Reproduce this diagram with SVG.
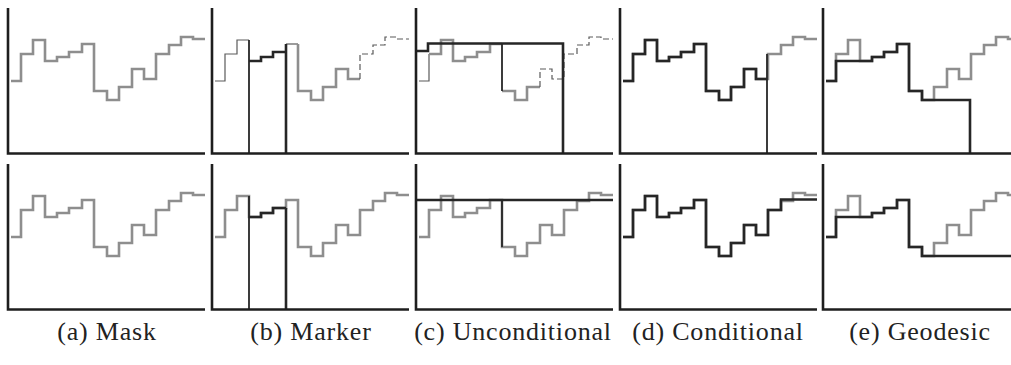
<svg xmlns="http://www.w3.org/2000/svg" width="1011" height="365" viewBox="0 0 1011 365">
<style>
.ax{fill:none;stroke:#1e1e1e;stroke-width:2.6;stroke-linejoin:miter}
.g{fill:none;stroke:#8e8e8e;stroke-width:2.6;stroke-linejoin:miter}
.k{fill:none;stroke:#262626;stroke-width:2.6;stroke-linejoin:miter}
.kw{fill:none;stroke:#262626;stroke-width:1.8}
.t{fill:none;stroke:#5a5a5a;stroke-width:1.2}
.td{fill:none;stroke:#5a5a5a;stroke-width:1.2;stroke-dasharray:6 3}
.lbl{font-family:"Liberation Serif","DejaVu Serif",serif;font-size:26px;letter-spacing:0.8px;fill:#222;text-anchor:middle}
</style>
<defs>
<path id="mask" d="M3,81 H13 V54 H25 V40 H37 V61 H49 V57 H61 V52 H74 V44 H86 V91 H99 V100 H111 V87 H124 V69 H136 V79 H148 V54 H161 V45 H173 V37 H185 V39 H197"/>
<path id="axis" d="M0,8 V153.5 H197"/>
</defs>
<rect width="1011" height="365" fill="#fff"/>

<g id="a-top" transform="translate(8,0)">
<use href="#mask" class="g"/>
<use href="#axis" class="ax"/>
</g>
<g id="a-bottom" transform="translate(8,156)">
<use href="#mask" class="g"/>
<use href="#axis" class="ax"/>
</g>

<g id="b-top" transform="translate(212,0)">
<path class="t" d="M3,81 H13 V54 H25 V40 H37"/>
<path class="t" d="M74,44 H86"/>
<path class="g" d="M86,44 V91 H99 V100 H111 V87 H124 V69 H136 V79 H148"/>
<path class="td" d="M148,79 V54 H161 V45 H173 V37 H185 V39 H197"/>
<path class="k" d="M37,61 H49 V57 H61 V52 H74"/>
<path class="kw" d="M37,40 V153"/>
<path class="k" d="M74,44 V153"/>
<use href="#axis" class="ax"/>
</g>
<g id="b-bottom" transform="translate(212,156)">
<use href="#mask" class="g"/>
<path class="k" d="M37,61 H49 V57 H61 V52 H74"/>
<path class="kw" d="M37,40 V153"/>
<path class="k" d="M74,52 V153"/>
<use href="#axis" class="ax"/>
</g>

<g id="c-top" transform="translate(416,0)">
<path class="t" d="M3,81 H13 V54"/>
<path class="g" d="M13,54 H25 V40 H37 V61 H49 V57 H61 V52 H74 V44 H86"/>
<path class="g" d="M86,91 H99 V100 H111 V87 H124"/>
<path class="td" d="M124,87 V69 H136 V79 H148 V54 H161 V45 H173 V37 H185 V39 H197"/>
<path class="kw" d="M86,44 V91"/>
<path class="k" d="M0,51 H12 V43.5 H147 V153"/>
<use href="#axis" class="ax"/>
</g>
<g id="c-bottom" transform="translate(416,156)">
<use href="#mask" class="g"/>
<path class="kw" d="M86,44 V91"/>
<path class="k" d="M0,44 H197"/>
<use href="#axis" class="ax"/>
</g>

<g id="d-top" transform="translate(620,0)">
<use href="#mask" class="g"/>
<path class="k" d="M3,81 H13 V54 H25 V40 H37 V61 H49 V57 H61 V52 H74 V44 H86 V91 H99 V100 H111 V87 H124 V69 H136 V79 H147"/>
<path class="kw" d="M147,54 V153"/>
<use href="#axis" class="ax"/>
</g>
<g id="d-bottom" transform="translate(620,156)">
<use href="#mask" class="g"/>
<path class="k" d="M3,81 H13 V54 H25 V40 H37 V61 H49 V57 H61 V52 H74 V44 H86 V91 H99 V100 H111 V87 H124 V69 H136 V79 H148 V54 H161 V43.5 H197"/>
<use href="#axis" class="ax"/>
</g>

<g id="e-top" transform="translate(823,0)">
<use href="#mask" class="g"/>
<path class="k" d="M3,81 H13 V61 H49 V57 H61 V52 H74 V44 H86 V91 H99 V100 H147 V153"/>
<use href="#axis" class="ax"/>
</g>
<g id="e-bottom" transform="translate(823,156)">
<use href="#mask" class="g"/>
<path class="k" d="M3,81 H13 V61 H49 V57 H61 V52 H74 V44 H86 V91 H99 V100 H197"/>
<use href="#axis" class="ax"/>
</g>

<g id="labels">
<text class="lbl" x="107" y="340">(a) Mask</text>
<text class="lbl" x="311" y="340">(b) Marker</text>
<text class="lbl" x="513" y="340">(c) Unconditional</text>
<text class="lbl" x="718" y="340">(d) Conditional</text>
<text class="lbl" x="920" y="340">(e) Geodesic</text>
</g>
</svg>
